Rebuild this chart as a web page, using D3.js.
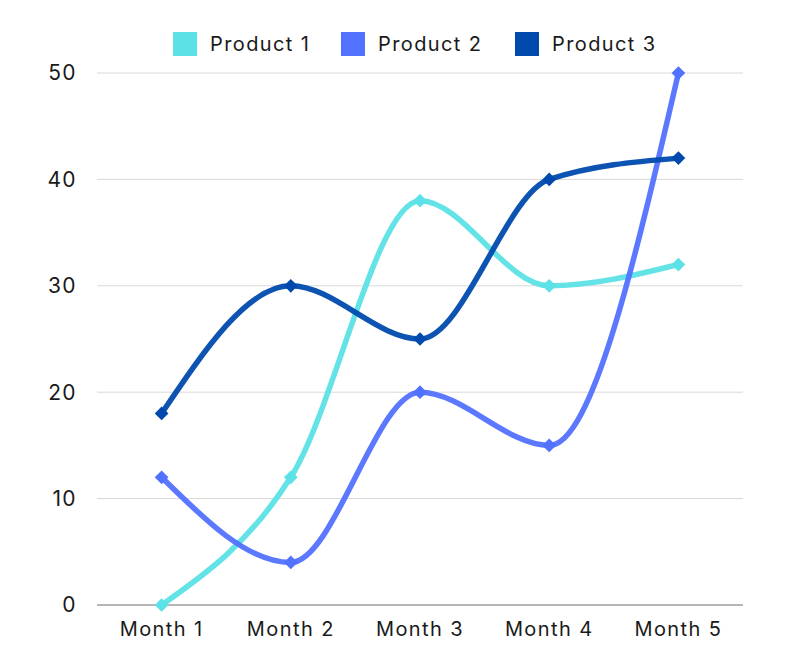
<!DOCTYPE html>
<html>
<head>
<meta charset="utf-8">
<script src="https://cdn.jsdelivr.net/npm/d3@7"></script>
<style>
  body { margin: 0; background: #fff; }
  text { font-family: "Inter", "Noto Sans", sans-serif; fill: #1a1a1a; letter-spacing: 1.4px; }
</style>
</head>
<body>
<div id="chart"></div>
<script>
var months = ["Month 1", "Month 2", "Month 3", "Month 4", "Month 5"];
var seriesNames = ["Product 1", "Product 2", "Product 3"];
var product1 = [0, 12, 38, 30, 32];
var product2 = [12, 4, 20, 15, 50];
var product3 = [18, 30, 25, 40, 42];
var yTicks = [0, 10, 20, 30, 40, 50];
var colors = ["#5ce1e6", "#5271ff", "#004aad"];

var width = 800, height = 669;
var margin = { top: 73, right: 57, bottom: 64, left: 97 };

var svg = d3.select("#chart").append("svg")
    .attr("width", width)
    .attr("height", height);

var x = d3.scalePoint()
    .domain(months)
    .range([margin.left, width - margin.right])
    .padding(0.5);

var y = d3.scaleLinear()
    .domain([0, 50])
    .range([height - margin.bottom, margin.top]);

// gridlines
svg.append("g")
    .selectAll("line")
    .data(yTicks)
    .enter()
    .append("line")
    .attr("x1", margin.left)
    .attr("x2", width - margin.right)
    .attr("y1", function (d) { return y(d); })
    .attr("y2", function (d) { return y(d); })
    .attr("stroke", function (d) { return d === 0 ? "#9e9e9e" : "#d9d9d9"; })
    .attr("stroke-width", function (d) { return d === 0 ? 1.5 : 1; });

// y labels
svg.append("g")
    .selectAll("text")
    .data(yTicks)
    .enter()
    .append("text")
    .attr("x", 77)
    .attr("y", function (d) { return y(d); })
    .attr("dy", "0.35em")
    .attr("text-anchor", "end")
    .style("font-size", "21px")
    .text(function (d) { return d; });

// x labels
svg.append("g")
    .selectAll("text")
    .data(months)
    .enter()
    .append("text")
    .attr("x", function (d) { return x(d); })
    .attr("y", height - margin.bottom + 31)
    .attr("text-anchor", "middle")
    .style("font-size", "20px")
    .text(function (d) { return d; });

var series = [product1, product2, product3].map(function (vals, i) {
    return { name: seriesNames[i], color: colors[i], values: vals };
});

var line = d3.line()
    .x(function (d, i) { return x(months[i]); })
    .y(function (d) { return y(d); })
    .curve(d3.curveMonotoneX);

var diamond = d3.symbol().type(d3.symbolDiamond2).size(120);

series.forEach(function (s) {
    var g = svg.append("g");
    g.append("path")
        .attr("d", line(s.values))
        .attr("fill", "none")
        .attr("stroke", s.color)
        .attr("stroke-width", 5.5)
        .attr("stroke-linecap", "round")
        .style("opacity", 0.95);
    g.selectAll("path.pt")
        .data(s.values)
        .enter()
        .append("path")
        .attr("class", "pt")
        .attr("d", diamond)
        .attr("transform", function (d, i) {
            return "translate(" + x(months[i]) + "," + y(d) + ")";
        })
        .attr("fill", s.color);
});

// legend
var legendX = [173, 341, 515];
var legend = svg.append("g");
series.forEach(function (s, i) {
    legend.append("rect")
        .attr("x", legendX[i])
        .attr("y", 32)
        .attr("width", 24)
        .attr("height", 24)
        .attr("fill", s.color);
    legend.append("text")
        .attr("x", legendX[i] + 37)
        .attr("y", 44)
        .attr("dy", "0.35em")
        .style("font-size", "20px")
        .text(s.name);
});
</script>
</body>
</html>
